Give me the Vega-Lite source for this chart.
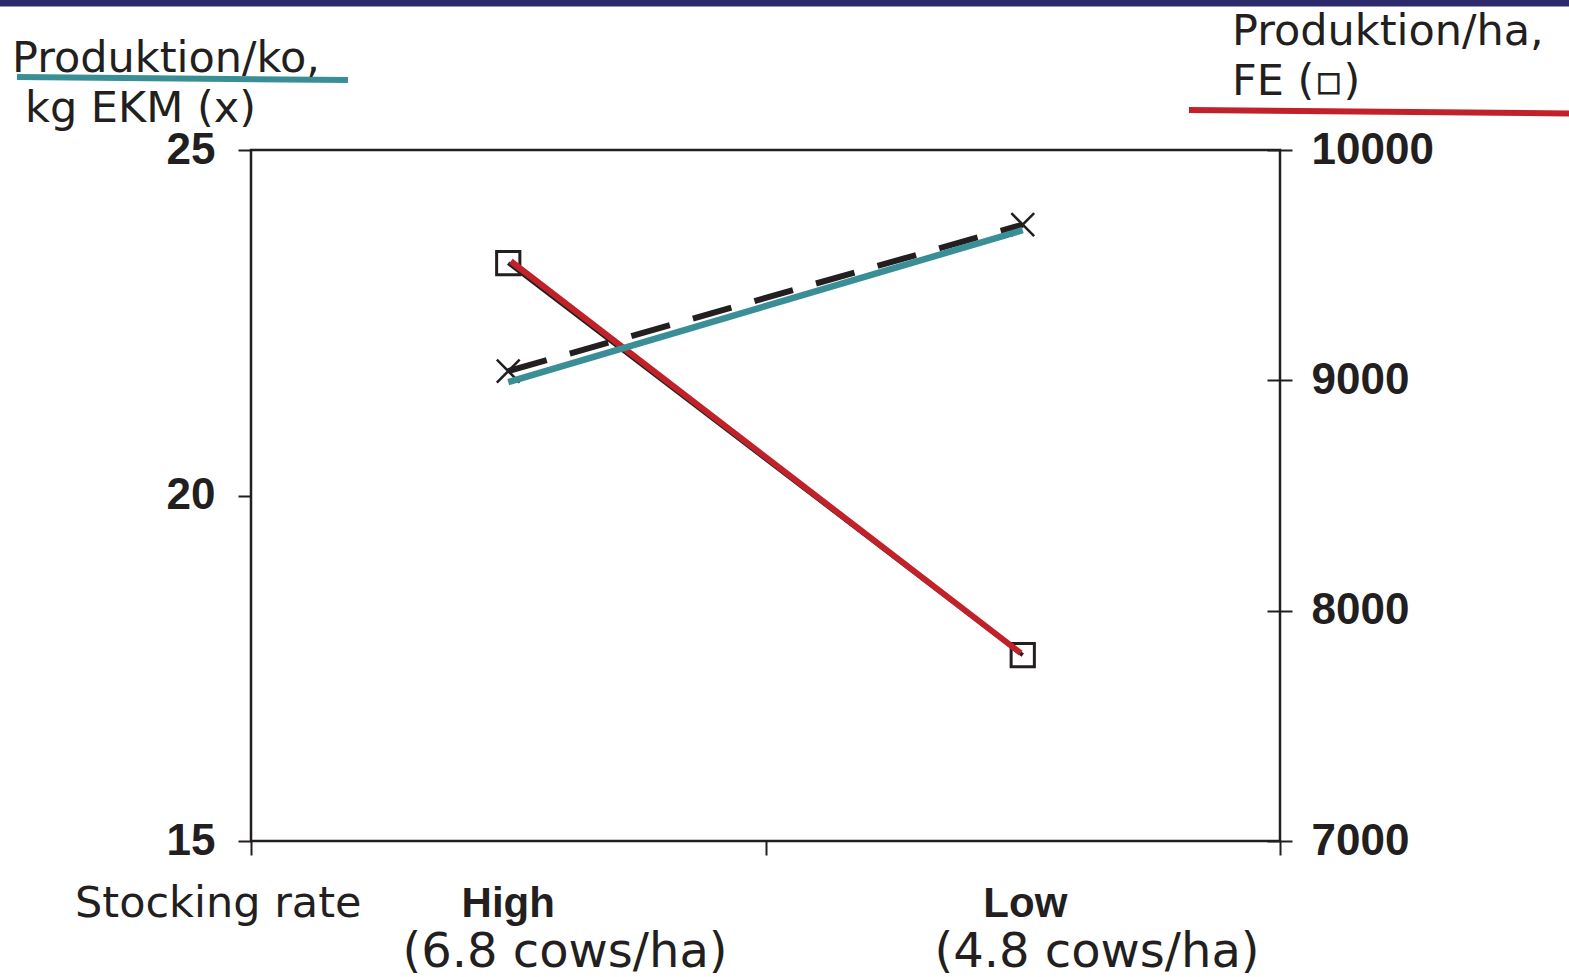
{
  "$schema": "https://vega.github.io/schema/vega-lite/v6.json",
  "width": 1029,
  "height": 691,
  "autosize": {"type": "none"},
  "padding": {"left": 251, "top": 150, "right": 289, "bottom": 136},
  "background": "#ffffff",
  "config": {
    "view": {"stroke": "#231f20", "strokeWidth": 2.5},
    "axis": {
      "grid": false,
      "domain": false,
      "tickColor": "#231f20",
      "tickWidth": 2,
      "labelColor": "#231f20",
      "labelFont": "Liberation Sans",
      "labelFontWeight": "bold",
      "labelFontSize": 44,
      "labelFlush": false,
      "labelOverlap": false
    }
  },
  "datasets": {
    "ko": [
      {"rate": "High", "x": 0.5, "value": 21.8},
      {"rate": "Low", "x": 1.5, "value": 23.92}
    ],
    "koMarked": [
      {"rate": "High", "x": 0.5, "value": 21.64},
      {"rate": "Low", "x": 1.5, "value": 23.84}
    ],
    "ha": [
      {"rate": "High", "x": 0.5, "value": 9509},
      {"rate": "Low", "x": 1.5, "value": 7807}
    ],
    "haMarked": [
      {"rate": "High", "x": 0.505, "value": 9517},
      {"rate": "Low", "x": 1.496, "value": 7816}
    ],
    "titles": [
      {"label": "Produktion/ko,", "x": -0.4645, "value": 26.129},
      {"label": "kg EKM (x)", "x": -0.4393, "value": 25.405},
      {"label": "Produktion/ha,", "x": 1.9067, "value": 26.52},
      {"label": "FE (▫)", "x": 1.9067, "value": 25.796},
      {"label": "Stocking rate", "x": -0.3421, "value": 13.9}
    ],
    "rateNames": [
      {"label": "High", "x": 0.5, "value": 13.9},
      {"label": "Low", "x": 1.505, "value": 13.9}
    ],
    "rateDensity": [
      {"label": "(6.8 cows/ha)", "x": 0.6103, "value": 13.17},
      {"label": "(4.8 cows/ha)", "x": 1.6443, "value": 13.17}
    ],
    "tealUnderline": [{"x": -0.4548, "x2": 0.1885, "value": 26.056, "value2": 26.013}],
    "redUnderline": [{"x": 1.8231, "x2": 2.57, "value": 25.579, "value2": 25.528}],
    "topBar": [{"x": -0.49, "x2": 2.57, "value": 27.127, "value2": 27.127}]
  },
  "layer": [
    {
      "layer": [
        {
          "data": {"name": "ha"},
          "mark": {"type": "line", "color": "#231f20", "strokeWidth": 4},
          "encoding": {
            "x": {"field": "x", "type": "quantitative", "scale": {"domain": [0, 2], "nice": false, "zero": false},
              "axis": {"orient": "bottom", "values": [0, 1, 2], "labels": false, "tickSize": 14, "title": null}},
            "y": {"field": "value", "type": "quantitative", "scale": {"domain": [7000, 10000], "nice": false, "zero": false},
              "axis": {"orient": "right", "values": [7000, 8000, 9000, 10000], "format": "d", "tickSize": 25, "offset": -13, "labelPadding": 19, "title": null}}
          }
        },
        {
          "data": {"name": "ha"},
          "mark": {"type": "point", "shape": "square", "filled": false, "stroke": "#231f20", "strokeWidth": 3, "size": 540, "opacity": 1},
          "encoding": {
            "x": {"field": "x", "type": "quantitative", "scale": {"domain": [0, 2], "nice": false, "zero": false}},
            "y": {"field": "value", "type": "quantitative", "scale": {"domain": [7000, 10000], "nice": false, "zero": false}}
          }
        },
        {
          "data": {"name": "haMarked"},
          "mark": {"type": "line", "color": "#c1222a", "strokeWidth": 6},
          "encoding": {
            "x": {"field": "x", "type": "quantitative", "scale": {"domain": [0, 2], "nice": false, "zero": false}},
            "y": {"field": "value", "type": "quantitative", "scale": {"domain": [7000, 10000], "nice": false, "zero": false}}
          }
        }
      ]
    },
    {
      "layer": [
        {
          "data": {"name": "ko"},
          "mark": {"type": "line", "color": "#231f20", "strokeWidth": 6, "strokeDash": [40, 24]},
          "encoding": {
            "x": {"field": "x", "type": "quantitative", "scale": {"domain": [0, 2], "nice": false, "zero": false}},
            "y": {"field": "value", "type": "quantitative", "scale": {"domain": [15, 25], "nice": false, "zero": false},
              "axis": {"orient": "left", "values": [15, 20, 25], "format": "d", "tickSize": 13, "labelPadding": 23, "title": null}}
          }
        },
        {
          "data": {"name": "topBar"},
          "mark": {"type": "rule", "color": "#2d2a6c", "strokeWidth": 7},
          "encoding": {
            "x": {"field": "x", "type": "quantitative", "scale": {"domain": [0, 2], "nice": false, "zero": false}},
            "x2": {"field": "x2"},
            "y": {"field": "value", "type": "quantitative", "scale": {"domain": [15, 25], "nice": false, "zero": false}},
            "y2": {"field": "value2"}
          }
        },
        {
          "data": {"name": "ko"},
          "mark": {"type": "point", "shape": "M-1,-1L1,1M-1,1L1,-1", "filled": false, "stroke": "#231f20", "strokeWidth": 2.5, "size": 520, "opacity": 1},
          "encoding": {
            "x": {"field": "x", "type": "quantitative", "scale": {"domain": [0, 2], "nice": false, "zero": false}},
            "y": {"field": "value", "type": "quantitative", "scale": {"domain": [15, 25], "nice": false, "zero": false}}
          }
        },
        {
          "data": {"name": "koMarked"},
          "mark": {"type": "line", "color": "#3a8f96", "strokeWidth": 6.5},
          "encoding": {
            "x": {"field": "x", "type": "quantitative", "scale": {"domain": [0, 2], "nice": false, "zero": false}},
            "y": {"field": "value", "type": "quantitative", "scale": {"domain": [15, 25], "nice": false, "zero": false}}
          }
        },
        {
          "data": {"name": "tealUnderline"},
          "mark": {"type": "rule", "color": "#3a8f96", "strokeWidth": 6},
          "encoding": {
            "x": {"field": "x", "type": "quantitative", "scale": {"domain": [0, 2], "nice": false, "zero": false}},
            "x2": {"field": "x2"},
            "y": {"field": "value", "type": "quantitative", "scale": {"domain": [15, 25], "nice": false, "zero": false}},
            "y2": {"field": "value2"}
          }
        },
        {
          "data": {"name": "redUnderline"},
          "mark": {"type": "rule", "color": "#c1222a", "strokeWidth": 6},
          "encoding": {
            "x": {"field": "x", "type": "quantitative", "scale": {"domain": [0, 2], "nice": false, "zero": false}},
            "x2": {"field": "x2"},
            "y": {"field": "value", "type": "quantitative", "scale": {"domain": [15, 25], "nice": false, "zero": false}},
            "y2": {"field": "value2"}
          }
        },
        {
          "data": {"name": "titles"},
          "mark": {"type": "text", "font": "DejaVu Sans", "fontSize": 43, "color": "#231f20", "align": "left", "baseline": "alphabetic"},
          "encoding": {
            "x": {"field": "x", "type": "quantitative", "scale": {"domain": [0, 2], "nice": false, "zero": false}},
            "y": {"field": "value", "type": "quantitative", "scale": {"domain": [15, 25], "nice": false, "zero": false}},
            "text": {"field": "label"}
          }
        },
        {
          "data": {"name": "rateNames"},
          "mark": {"type": "text", "font": "Liberation Sans", "fontWeight": "bold", "fontSize": 42, "color": "#231f20", "align": "center", "baseline": "alphabetic"},
          "encoding": {
            "x": {"field": "x", "type": "quantitative", "scale": {"domain": [0, 2], "nice": false, "zero": false}},
            "y": {"field": "value", "type": "quantitative", "scale": {"domain": [15, 25], "nice": false, "zero": false}},
            "text": {"field": "label"}
          }
        },
        {
          "data": {"name": "rateDensity"},
          "mark": {"type": "text", "font": "DejaVu Sans", "fontSize": 48, "color": "#231f20", "align": "center", "baseline": "alphabetic"},
          "encoding": {
            "x": {"field": "x", "type": "quantitative", "scale": {"domain": [0, 2], "nice": false, "zero": false}},
            "y": {"field": "value", "type": "quantitative", "scale": {"domain": [15, 25], "nice": false, "zero": false}},
            "text": {"field": "label"}
          }
        }
      ]
    }
  ],
  "resolve": {"scale": {"y": "independent"}}
}
